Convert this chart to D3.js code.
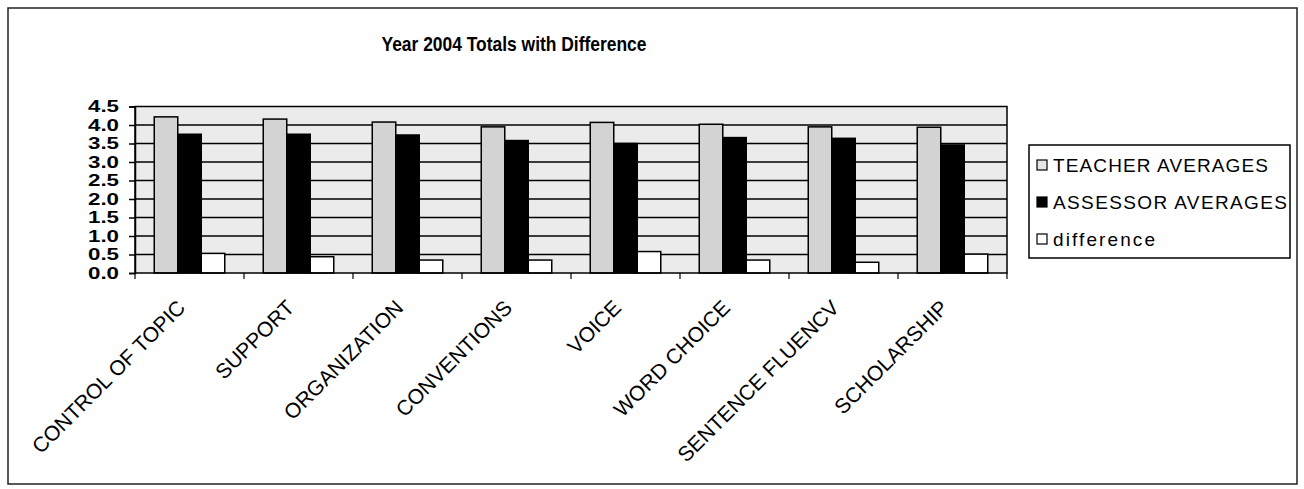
<!DOCTYPE html>
<html>
<head>
<meta charset="utf-8">
<script src="https://cdn.jsdelivr.net/npm/d3@7"></script>
<style>
  html, body { margin: 0; padding: 0; background: #fff; }
  svg { display: block; }
</style>
</head>
<body>
<svg id="chart" width="1304" height="489"></svg>
<script>
// Rubric categories and per-category averages (2004)
const categories = ["CONTROL OF TOPIC", "SUPPORT", "ORGANIZATION", "CONVENTIONS",
                    "VOICE", "WORD CHOICE", "SENTENCE FLUENCV", "SCHOLARSHIP"];
const teacherAverages  = [4.22, 4.16, 4.08, 3.95, 4.07, 4.02, 3.95, 3.94];
const assessorAverages = [3.75, 3.75, 3.73, 3.58, 3.50, 3.66, 3.64, 3.46];
const difference       = [0.53, 0.44, 0.35, 0.35, 0.58, 0.35, 0.29, 0.51];
const seriesNames = ["TEACHER AVERAGES", "ASSESSOR AVERAGES", "difference"];
const yTicks = [0, 0.5, 1, 1.5, 2, 2.5, 3, 3.5, 4, 4.5];

const seriesValues = [teacherAverages, assessorAverages, difference];
const seriesFill = ["#d3d3d3", "#000000", "#ffffff"];

const svg = d3.select("#chart");
const plot = { left: 135, right: 1007, top: 106.5, bottom: 273 };

const font = "'Liberation Sans', Arial, Helvetica, sans-serif";

// outer frame
svg.append("rect")
  .attr("x", 8).attr("y", 8).attr("width", 1289).attr("height", 476)
  .attr("fill", "none").attr("stroke", "#222").attr("stroke-width", 1.5);

// title
svg.append("text")
  .attr("x", 514).attr("y", 51)
  .attr("text-anchor", "middle")
  .attr("font-family", font).attr("font-weight", "bold").attr("font-size", 21)
  .attr("textLength", 265).attr("lengthAdjust", "spacingAndGlyphs")
  .text("Year 2004 Totals with Difference");

const x0 = d3.scaleBand().domain(categories).range([plot.left, plot.right]).padding(0);
const groupW = 70.5;
const x1 = d3.scaleBand().domain(seriesNames).range([0, groupW]).padding(0);
const y = d3.scaleLinear().domain([0, 4.5]).range([plot.bottom, plot.top]);

// plot background
svg.append("rect")
  .attr("x", plot.left).attr("y", plot.top)
  .attr("width", plot.right - plot.left).attr("height", plot.bottom - plot.top)
  .attr("fill", "#ebebeb");

// horizontal gridlines
svg.append("g")
  .selectAll("line")
  .data(yTicks.filter(d => d > 0 && d < 4.5))
  .join("line")
  .attr("x1", plot.left).attr("x2", plot.right)
  .attr("y1", d => y(d)).attr("y2", d => y(d))
  .attr("stroke", "#000").attr("stroke-width", 1.5);

// bars
const data = [];
categories.forEach((c, i) => {
  seriesNames.forEach((s, j) => data.push({ c, s, j, v: seriesValues[j][i] }));
});
const offset = (x0.step() - groupW) / 2;
svg.append("g")
  .selectAll("rect")
  .data(data)
  .join("rect")
  .attr("x", d => x0(d.c) + offset + x1(d.s))
  .attr("y", d => y(d.v))
  .attr("width", x1.bandwidth())
  .attr("height", d => y(0) - y(d.v))
  .attr("fill", d => seriesFill[d.j])
  .attr("stroke", "#000").attr("stroke-width", 1.5);

// plot border
svg.append("rect")
  .attr("x", plot.left).attr("y", plot.top)
  .attr("width", plot.right - plot.left).attr("height", plot.bottom - plot.top)
  .attr("fill", "none").attr("stroke", "#000").attr("stroke-width", 1.5);

// y axis
const yAxis = d3.axisLeft(y).tickValues(yTicks).tickFormat(d3.format(".1f")).tickSize(6).tickPadding(10);
const gy = svg.append("g").attr("transform", `translate(${plot.left},0)`).call(yAxis);
gy.select(".domain").attr("stroke", "#000").attr("stroke-width", 1.5);
gy.selectAll(".tick line").attr("stroke", "#000").attr("stroke-width", 1.5);
gy.selectAll(".tick text")
  .attr("font-family", font).attr("font-size", 17).attr("font-weight", "bold")
  .attr("fill", "#000")
  .attr("textLength", 31).attr("lengthAdjust", "spacingAndGlyphs");

// x axis: ticks on category boundaries
const boundaries = d3.range(categories.length + 1);
svg.append("g")
  .selectAll("line")
  .data(boundaries)
  .join("line")
  .attr("x1", i => plot.left + i * x0.step()).attr("x2", i => plot.left + i * x0.step())
  .attr("y1", plot.bottom).attr("y2", plot.bottom + 6)
  .attr("stroke", "#000").attr("stroke-width", 1.2);

// rotated category labels
svg.append("g")
  .selectAll("text")
  .data(categories)
  .join("text")
  .attr("transform", d => `translate(${x0(d) + x0.bandwidth() / 2 - 3},${plot.bottom + 36}) rotate(-45)`)
  .attr("text-anchor", "end")
  .attr("font-family", font).attr("font-size", 21)
  .attr("fill", "#000")
  .text(d => d);

// legend
const legend = svg.append("g");
legend.append("rect")
  .attr("x", 1029).attr("y", 145).attr("width", 261).attr("height", 113)
  .attr("fill", "#fff").attr("stroke", "#000").attr("stroke-width", 1.5);
const legendWidths = [215, 234, 102];
const legendSwatch = ["#e6e6e6", "#000", "#fff"];
seriesNames.forEach((s, j) => {
  const cy = 165 + j * 37;
  legend.append("rect")
    .attr("x", 1037).attr("y", cy - 5).attr("width", 10).attr("height", 10)
    .attr("fill", legendSwatch[j]).attr("stroke", "#000").attr("stroke-width", 1.2);
  legend.append("text")
    .attr("x", 1053).attr("y", cy + 7)
    .attr("font-family", font).attr("font-size", 19)
    .attr("textLength", legendWidths[j]).attr("lengthAdjust", "spacing")
    .text(s);
});
</script>
</body>
</html>
